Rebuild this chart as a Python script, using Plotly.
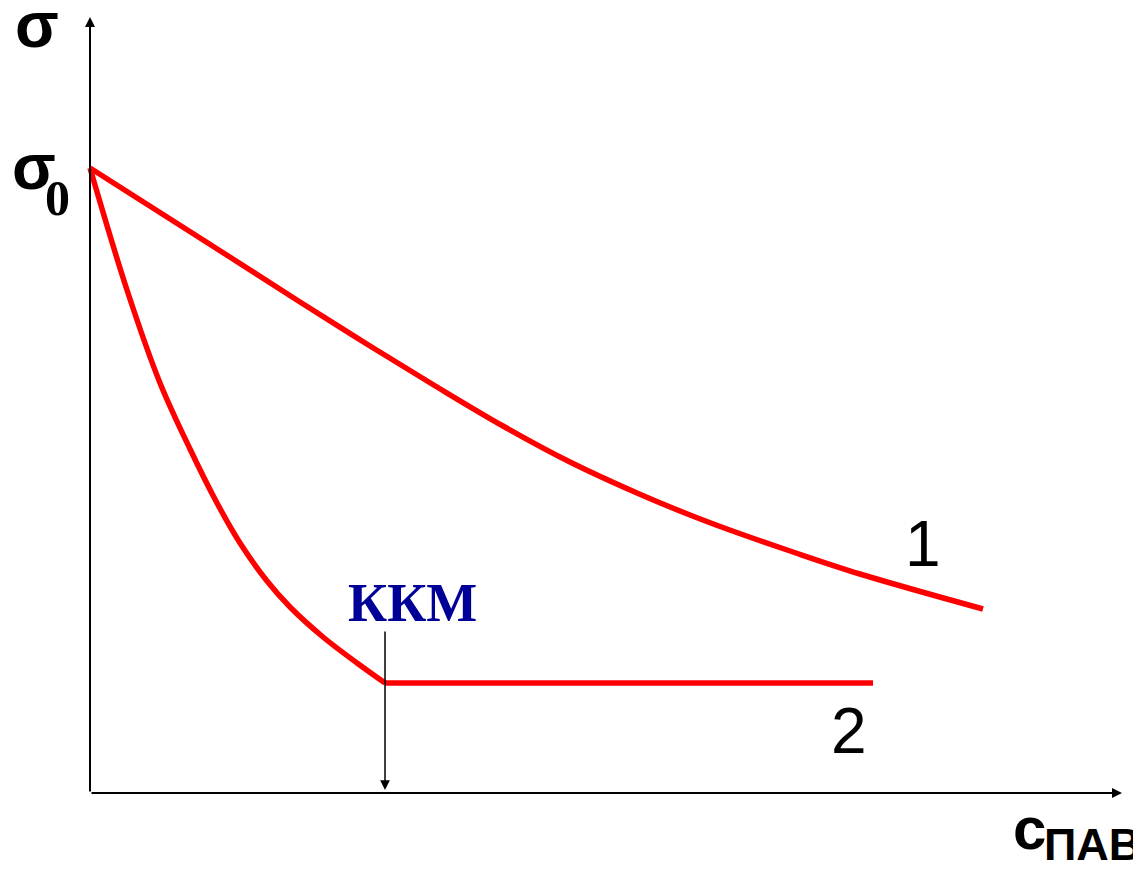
import plotly.graph_objects as go

# Curve 1: gradual decrease of surface tension (arbitrary units)
c1 = [0, 110, 210, 280, 347, 413, 480, 547, 600, 637, 703, 770, 893]
s1 = [625, 555, 491, 447, 406, 367, 331, 300, 278, 264, 241, 219, 184]

# Curve 2: surfactant with CMC (ККМ), then plateau
c2 = [0, 37, 70, 100, 127, 150, 177, 200, 233, 267, 295, 783]
s2 = [625, 503, 410, 344, 290, 250, 212, 186, 156, 130, 110, 110]

cmc = 295          # position of ККМ on concentration axis
x_end = 1032       # end of x axis arrow
y_end = 776        # end of y axis arrow

RED = "#FF0000"
fig = go.Figure()
fig.add_trace(go.Scatter(x=c1, y=s1, mode="lines", line=dict(color=RED, width=5.5, shape="spline", smoothing=1),
                         showlegend=False, hoverinfo="skip"))
k = c2.index(cmc)
fig.add_trace(go.Scatter(x=c2[:k + 1], y=s2[:k + 1], mode="lines", line=dict(color=RED, width=5.5, shape="spline", smoothing=1),
                         showlegend=False, hoverinfo="skip"))
fig.add_trace(go.Scatter(x=c2[k:], y=s2[k:], mode="lines", line=dict(color=RED, width=5.5),
                         showlegend=False, hoverinfo="skip"))

ann = []
# axes arrows
ann.append(dict(x=0, y=y_end, ax=0, ay=0, xref="x", yref="y", axref="x", ayref="y", text="",
                showarrow=True, arrowhead=2, arrowwidth=2, arrowsize=1, arrowcolor="black"))
ann.append(dict(x=x_end, y=0, ax=0, ay=0, xref="x", yref="y", axref="x", ayref="y", text="",
                showarrow=True, arrowhead=2, arrowwidth=2, arrowsize=1, arrowcolor="black"))
# KKM arrow
ann.append(dict(x=cmc, y=3, ax=cmc, ay=163, xref="x", yref="y", axref="x", ayref="y", text="",
                showarrow=True, arrowhead=2, arrowwidth=1.5, arrowsize=1.3, arrowcolor="black"))

def txt(t, x, y, size, family, color="black", bold=False):
    return dict(x=x - 90, y=793 - y, xref="x", yref="y", text=(f"<b>{t}</b>" if bold else t),
                showarrow=False, xanchor="center", yanchor="middle",
                font=dict(size=size, family=family, color=color))

SANS = "Liberation Sans, Arial, sans-serif"
SERIF = "Liberation Serif, Times New Roman, serif"
ann.append(txt("σ", 37, 25, 64, SANS, bold=True))
ann.append(txt("σ", 34, 167, 64, SANS, bold=True))
ann.append(txt("0", 57, 198, 50, SERIF, bold=True))
ann.append(txt("ККМ", 412, 603, 54, SERIF, color="#000099", bold=True))
ann.append(txt("1", 923, 544, 64, SANS))
ann.append(txt("2", 849, 731, 64, SANS))
ann.append(txt("c", 1029, 828, 60, SANS, bold=True))
ann.append(txt("ПАВ", 1092, 844, 45, SANS, bold=True))

# page body has an 8px margin, so the figure is 8px smaller and shifted
W, H = 1133, 867
ox, oy = 82, 785   # origin position inside the figure (px)
fig.update_layout(
    width=W, height=H,
    margin=dict(l=0, r=0, t=0, b=0),
    paper_bgcolor="white", plot_bgcolor="white",
    xaxis=dict(range=[-ox, W - ox], visible=False, fixedrange=True),
    yaxis=dict(range=[-(H - oy), oy], visible=False, fixedrange=True),
    annotations=ann,
)
fig.write_html("out.html")
